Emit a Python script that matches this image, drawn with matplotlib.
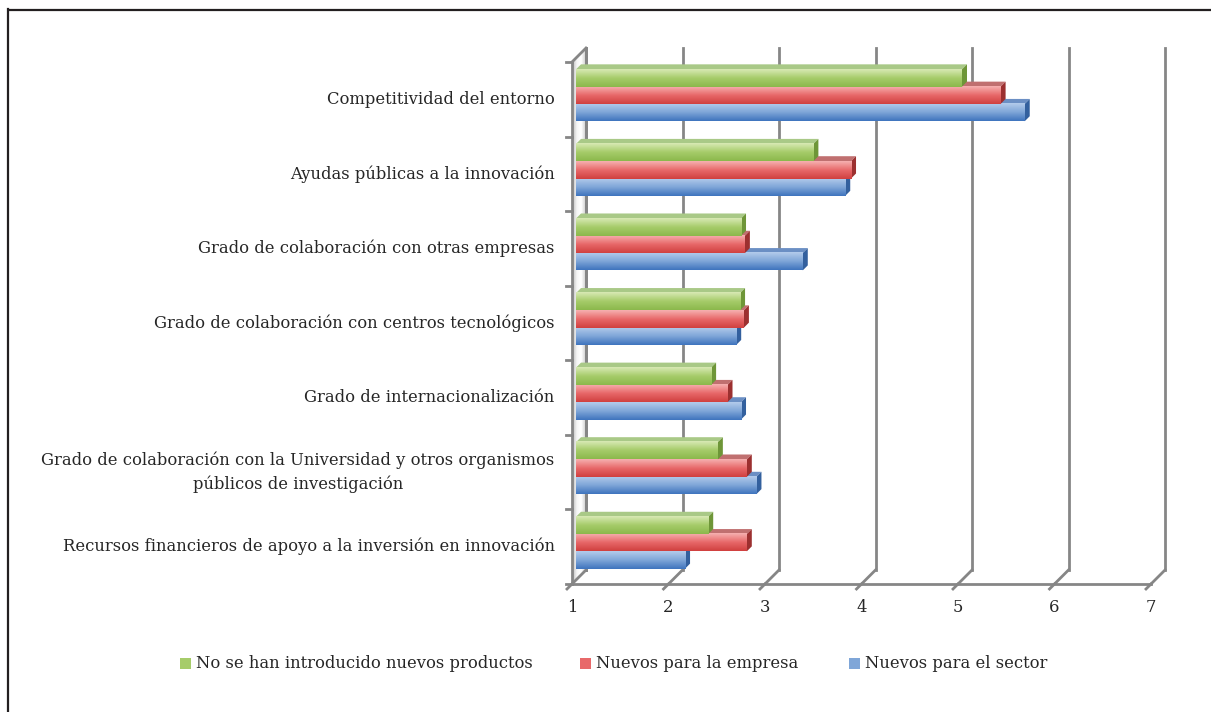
import numpy as np
import matplotlib
matplotlib.use("Agg")
import matplotlib.pyplot as plt
from matplotlib.patches import Polygon, Rectangle
from matplotlib.lines import Line2D
from matplotlib.colors import LinearSegmentedColormap
from matplotlib.transforms import offset_copy

# factores de innovación, de abajo hacia arriba
categorias = [
    "Recursos financieros de apoyo a la inversión en innovación",
    "Grado de colaboración con la Universidad y otros organismos\npúblicos de investigación",
    "Grado de internacionalización",
    "Grado de colaboración con centros tecnológicos",
    "Grado de colaboración con otras empresas",
    "Ayudas públicas a la innovación",
    "Competitividad del entorno",
]
series = [
    "No se han introducido nuevos productos",
    "Nuevos para la empresa",
    "Nuevos para el sector",
]
sin_nuevos = [2.37, 2.47, 2.40, 2.70, 2.71, 3.46, 5.00]
nuevos_empresa = [2.77, 2.77, 2.57, 2.74, 2.75, 3.85, 5.40]
nuevos_sector = [2.13, 2.87, 2.71, 2.66, 3.35, 3.79, 5.65]
valores = [sin_nuevos, nuevos_empresa, nuevos_sector]
ticks_x = [1, 2, 3, 4, 5, 6, 7]

# (claro arriba, medio, oscuro abajo, cara lateral, cara superior)
colores = [
    ("#d8e9b4", "#a6cc6a", "#8bb84c", "#6e9638", "#a9c987"),
    ("#f6b0b0", "#e8696a", "#d0403f", "#9c3030", "#c07070"),
    ("#b3cbeb", "#7fa6d8", "#3f74be", "#33609e", "#6b8fc4"),
]

plt.rcParams["font.family"] = ["DejaVu Serif"]
FS = 11.8
W, H = 1211, 712
fig = plt.figure(figsize=(W / 100, H / 100), dpi=100)
fig.patch.set_facecolor("white")

ax = fig.add_axes([572 / W, (H - 584) / H, 579 / W, 522 / H])
ax.set_xlim(1, 7)
ax.set_ylim(-0.5, 6.5)
ax.axis("off")

# profundidad del gráfico 3D en píxeles
PROF = 14
BAR_D0, BAR_D1 = 4, 9
gris = "#868686"

def to_disp(pts, off):
    p = ax.transData.transform(pts)
    return p + np.array([off, off])

def poly(pts, off_pts, **kw):
    xy = np.vstack([to_disp([a], o) for a, o in zip(pts, off_pts)])
    ax.add_patch(Polygon(xy, closed=True, transform=None, clip_on=False, **kw))

def linea(p0, o0, p1, o1, **kw):
    a = to_disp([p0], o0)[0]
    b = to_disp([p1], o1)[0]
    ax.add_line(Line2D([a[0], b[0]], [a[1], b[1]], transform=None,
                       clip_on=False, **kw))

ymin, ymax = -0.5, 6.5

# pared izquierda con degradado
pared = LinearSegmentedColormap.from_list("pared", ["#bdbdbd", "#f4f4f4", "#ffffff", "#d0d0d0"])
for k in range(PROF):
    poly([(1, ymin), (1, ymin), (1, ymax), (1, ymax)], [k, k + 1.2, k + 1.2, k],
         facecolor=pared(k / (PROF - 1)), edgecolor="none", zorder=1)
linea((1, ymin), 0, (1, ymax), 0, color=gris, lw=2, zorder=2)
linea((1, ymin), PROF, (1, ymax), PROF, color=gris, lw=2, zorder=2)
linea((1, ymax), 0, (1, ymax), PROF, color=gris, lw=2, zorder=2)

# líneas de división verticales y suelo
for t in ticks_x:
    linea((t, ymin), 0, (t, ymin), PROF, color=gris, lw=2, zorder=2)
    linea((t, ymin), PROF, (t, ymax), PROF, color=gris, lw=2, zorder=2)
    linea((t, ymin), 0, (t, ymin), -5, color=gris, lw=2, zorder=2)
    ax.text(t, ymin, str(t), transform=offset_copy(ax.transData, fig, x=0, y=-15, units="dots"),
            ha="center", va="top", fontsize=FS, color="#262626")
linea((1, ymin), 0, (7, ymin), 0, color=gris, lw=2, zorder=2)

# marcas del eje de categorías
for k in range(len(categorias) + 1):
    y = ymin + k
    a = to_disp([(1, y)], 0)[0]
    ax.add_line(Line2D([a[0] - 6, a[0]], [a[1], a[1]], transform=None,
                       clip_on=False, color=gris, lw=2, zorder=2))

# barras 3D
alto = 0.232
gradiente = np.linspace(0, 1, 64).reshape(-1, 1)
for j, (vals, col) in enumerate(zip(valores, colores)):
    cmap = LinearSegmentedColormap.from_list("c%d" % j, [col[2], col[1], col[0]])
    for i, v in enumerate(vals):
        yc = i + (1 - j) * alto
        y0, y1 = yc - alto / 2, yc + alto / 2
        z = 5 + (len(categorias) - i) * 4 - j
        # cara superior
        poly([(1, y1), (v, y1), (v, y1), (1, y1)], [BAR_D0, BAR_D0, BAR_D1, BAR_D1],
             facecolor=col[4], edgecolor="none", zorder=z)
        # cara lateral
        poly([(v, y0), (v, y0), (v, y1), (v, y1)], [BAR_D0, BAR_D1, BAR_D1, BAR_D0],
             facecolor=col[3], edgecolor="none", zorder=z)
        # cara frontal con degradado
        tr = offset_copy(ax.transData, fig, x=BAR_D0, y=BAR_D0, units="dots")
        im = ax.imshow(gradiente, cmap=cmap, aspect="auto", origin="lower",
                       extent=(1, v, y0, y1), transform=tr, zorder=z + 0.5,
                       interpolation="bilinear")
        im.set_clip_on(False)

ax.set_xlim(1, 7)
ax.set_ylim(-0.5, 6.5)

# etiquetas de categoría
for i, c in enumerate(categorias):
    ax.text(0.82, i, c, ha="right", va="center", multialignment="center",
            fontsize=FS, color="#262626", linespacing=1.45)

# leyenda
ley_x = [180, 580, 849]
for (x, nombre, col) in zip(ley_x, series, colores):
    fig.add_artist(Rectangle((x / W, (H - 669) / H), 11 / W, 11 / H,
                             transform=fig.transFigure, facecolor=col[1],
                             edgecolor="none"))
    fig.text((x + 16) / W, (H - 663) / H, nombre, ha="left", va="center",
             fontsize=FS, color="#262626")

# marco
fig.add_artist(Line2D([10 / W, 1], [(H - 10) / H] * 2, transform=fig.transFigure,
                      color="#231f20", lw=1.6))
fig.add_artist(Line2D([8 / W] * 2, [0, (H - 9) / H], transform=fig.transFigure,
                      color="#231f20", lw=1.6))

fig.savefig("out.png", dpi=100)
